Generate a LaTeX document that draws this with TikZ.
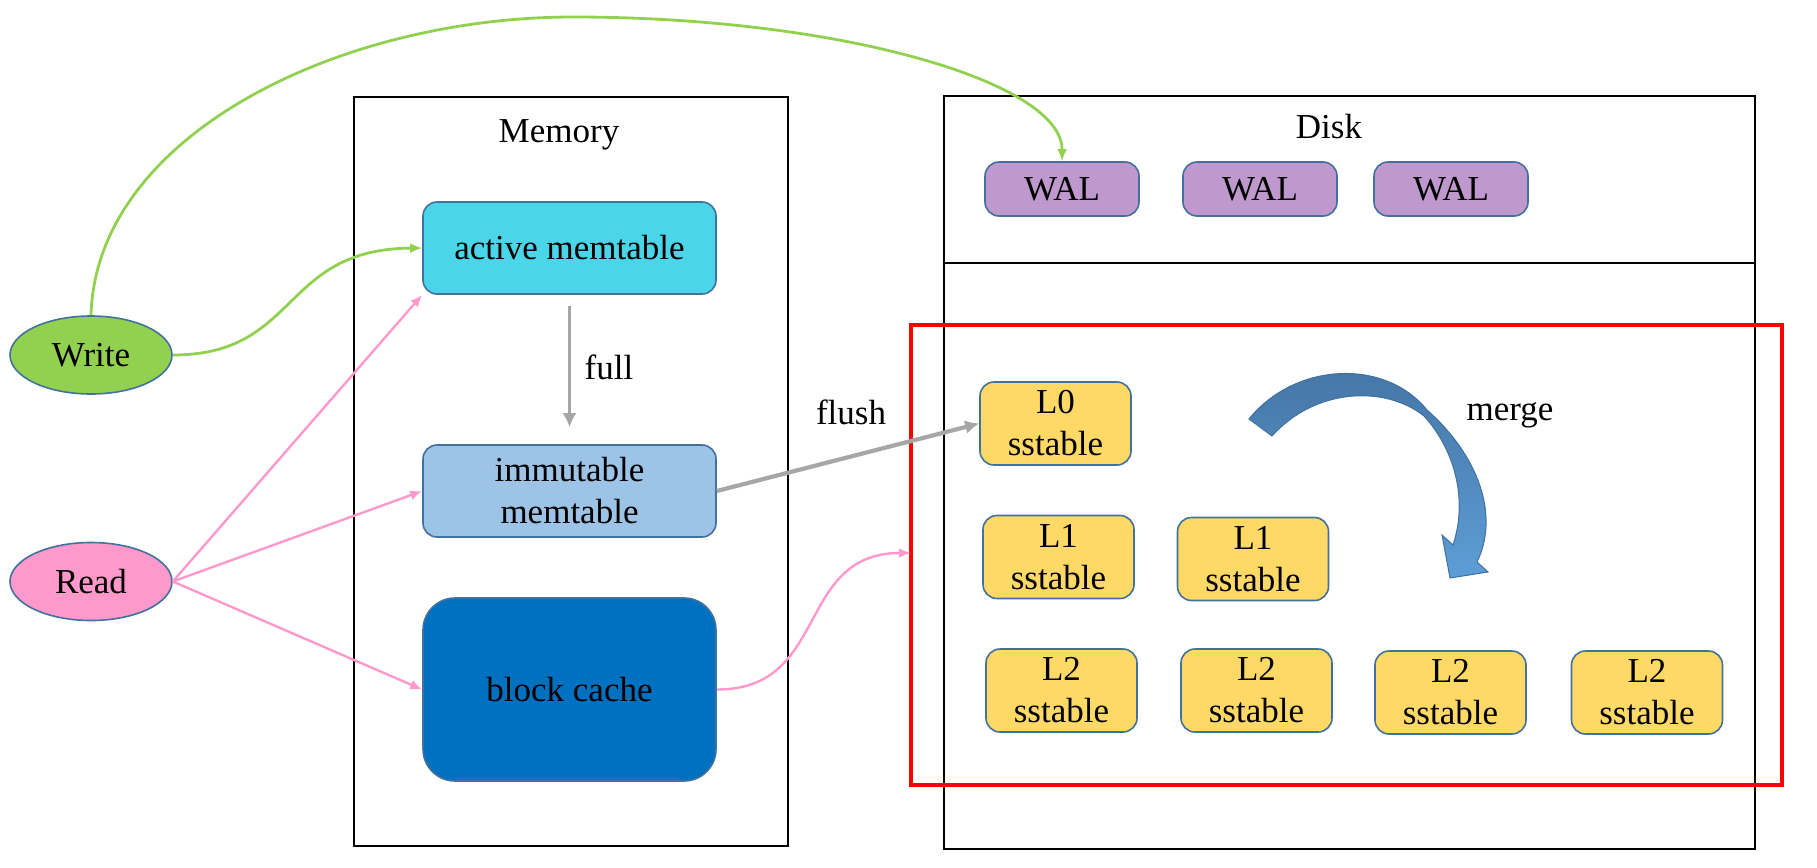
\documentclass[tikz,border=0pt]{standalone}
\usepackage{fontspec}
\setmainfont{Liberation Serif}
\usepackage{xcolor}
\usepackage{tikz}
\usetikzlibrary{arrows.meta, shapes.geometric, positioning, calc}
\definecolor{bordercol}{RGB}{65,113,156}
\definecolor{writecol}{RGB}{146,208,80}
\definecolor{readcol}{RGB}{255,153,204}
\definecolor{activecol}{RGB}{75,213,232}
\definecolor{immutcol}{RGB}{157,195,230}
\definecolor{cachecol}{RGB}{0,112,192}
\definecolor{walcol}{RGB}{191,153,206}
\definecolor{sstcol}{RGB}{255,217,102}
\definecolor{arrgray}{RGB}{166,166,166}
\definecolor{mergetop}{RGB}{68,116,164}
\definecolor{mergebot}{RGB}{93,157,214}
\newcommand{\lsmfont}{\fontsize{17.5}{21}\selectfont}

\begin{document}
\begin{tikzpicture}[x=0.5pt,y=-0.5pt,
    every node/.append style={font=\lsmfont},
    lsmbox/.style={draw=bordercol, line width=0.8pt, rounded corners=7pt, align=center, inner sep=0pt},
    memtab/.style={lsmbox, minimum width=146.5pt, minimum height=46pt},
    sst/.style={lsmbox, fill=sstcol, minimum width=75.5pt, minimum height=41.5pt},
    wal/.style={lsmbox, fill=walcol, minimum width=77pt, minimum height=27pt},
    client/.style={ellipse, draw=bordercol, line width=0.8pt, inner sep=0pt, minimum width=81pt, minimum height=39pt},
    memframe/.style={draw=black, line width=1.35pt},
    readarr/.style={draw=readcol, line width=1.2pt, -{Latex[length=6pt,width=5pt]}},
    writearr/.style={draw=writecol, line width=1.4pt, -{Latex[length=6pt,width=5pt]}},
    grayarr/.style={draw=arrgray, line width=1.9pt, -{Latex[length=7pt,width=7pt]}}]
    \useasboundingbox (0,0) rectangle (1817,868);
    % memory and disk frames
    \draw[memframe] (354,97) rectangle (788,846);
    \draw[memframe] (944,96) rectangle (1755,849);
    \draw[memframe] (944,263) -- (1755,263);
    \node (memlbl) at (559,135) {Memory};
    \node (disklbl) at (1329,127) {Disk};
    % clients
    \node[client, fill=writecol] (write) at (91,355) {Write};
    \node[client, fill=readcol] (read) at (91,581.5) {Read};
    % memtables and cache
    \node[memtab, fill=activecol] (active) at (569.5,248) {active memtable};
    \node[memtab, fill=immutcol] (immut) at (569.5,491) {immutable\\memtable};
    \node[lsmbox, fill=cachecol, rounded corners=16pt, minimum width=146.5pt, minimum height=91.5pt] (cache) at (569.5,689.5) {block cache};
    % write ahead logs
    \node[wal] (wal1) at (1062,189) {WAL};
    \node[wal] (wal2) at (1260,189) {WAL};
    \node[wal] (wal3) at (1451,189) {WAL};
    % sstable levels
    \draw[red, line width=2.35pt] (911,325) rectangle (1782,785);
    \coordinate (lsm) at (911,553);
    \node[sst] (l0) at (1055.5,423.5) {L0\\sstable};
    \node[sst] (l1a) at (1058.5,557) {L1\\sstable};
    \node[sst] (l1b) at (1253,559) {L1\\sstable};
    \node[sst] (l2a) at (1061.5,690.5) {L2\\sstable};
    \node[sst] (l2b) at (1256.5,690.5) {L2\\sstable};
    \node[sst] (l2c) at (1450.5,692.5) {L2\\sstable};
    \node[sst] (l2d) at (1647,692.5) {L2\\sstable};
    % merge arrow
    \path[draw=bordercol, line width=0.5pt, top color=mergetop, bottom color=mergebot]
        (1249,419) .. controls (1295,362) and (1385,358) .. (1427,410)
        .. controls (1478,455) and (1500,515) .. (1477,562)
        -- (1488,572) -- (1450,578) -- (1442,535) -- (1453,545)
        .. controls (1468,500) and (1455,450) .. (1424,416)
        .. controls (1385,385) and (1315,388) .. (1272,436) -- cycle;
    \node (mergelbl) at (1510,415) {merge};
    % write path
    \coordinate (arctop) at (573,17);
    \draw[writearr] (write.east) .. controls (300,355) and (280,249) .. (active.west);
    \draw[writearr] (write.north) .. controls (96,135) and (340,17) .. (arctop)
        .. controls (839,17) and (1063,82) .. (wal1.north);
    % read path
    \draw[readarr] (read.east) -- (active.south west);
    \draw[readarr] (read.east) -- (immut.west);
    \draw[readarr] (read.east) -- (cache.west);
    \draw[readarr] (cache.east) .. controls (830,690) and (795,553) .. (lsm);
    % full and flush
    \draw[grayarr, shorten <=5.5pt, shorten >=8.5pt] (active.south) -- (immut.north);
    \node (fulllbl) at (609,367) {full};
    \draw[grayarr, line width=2.1pt] (immut.east) -- (l0.west);
    \node (flushlbl) at (851,412) {flush};
\end{tikzpicture}
\end{document}
